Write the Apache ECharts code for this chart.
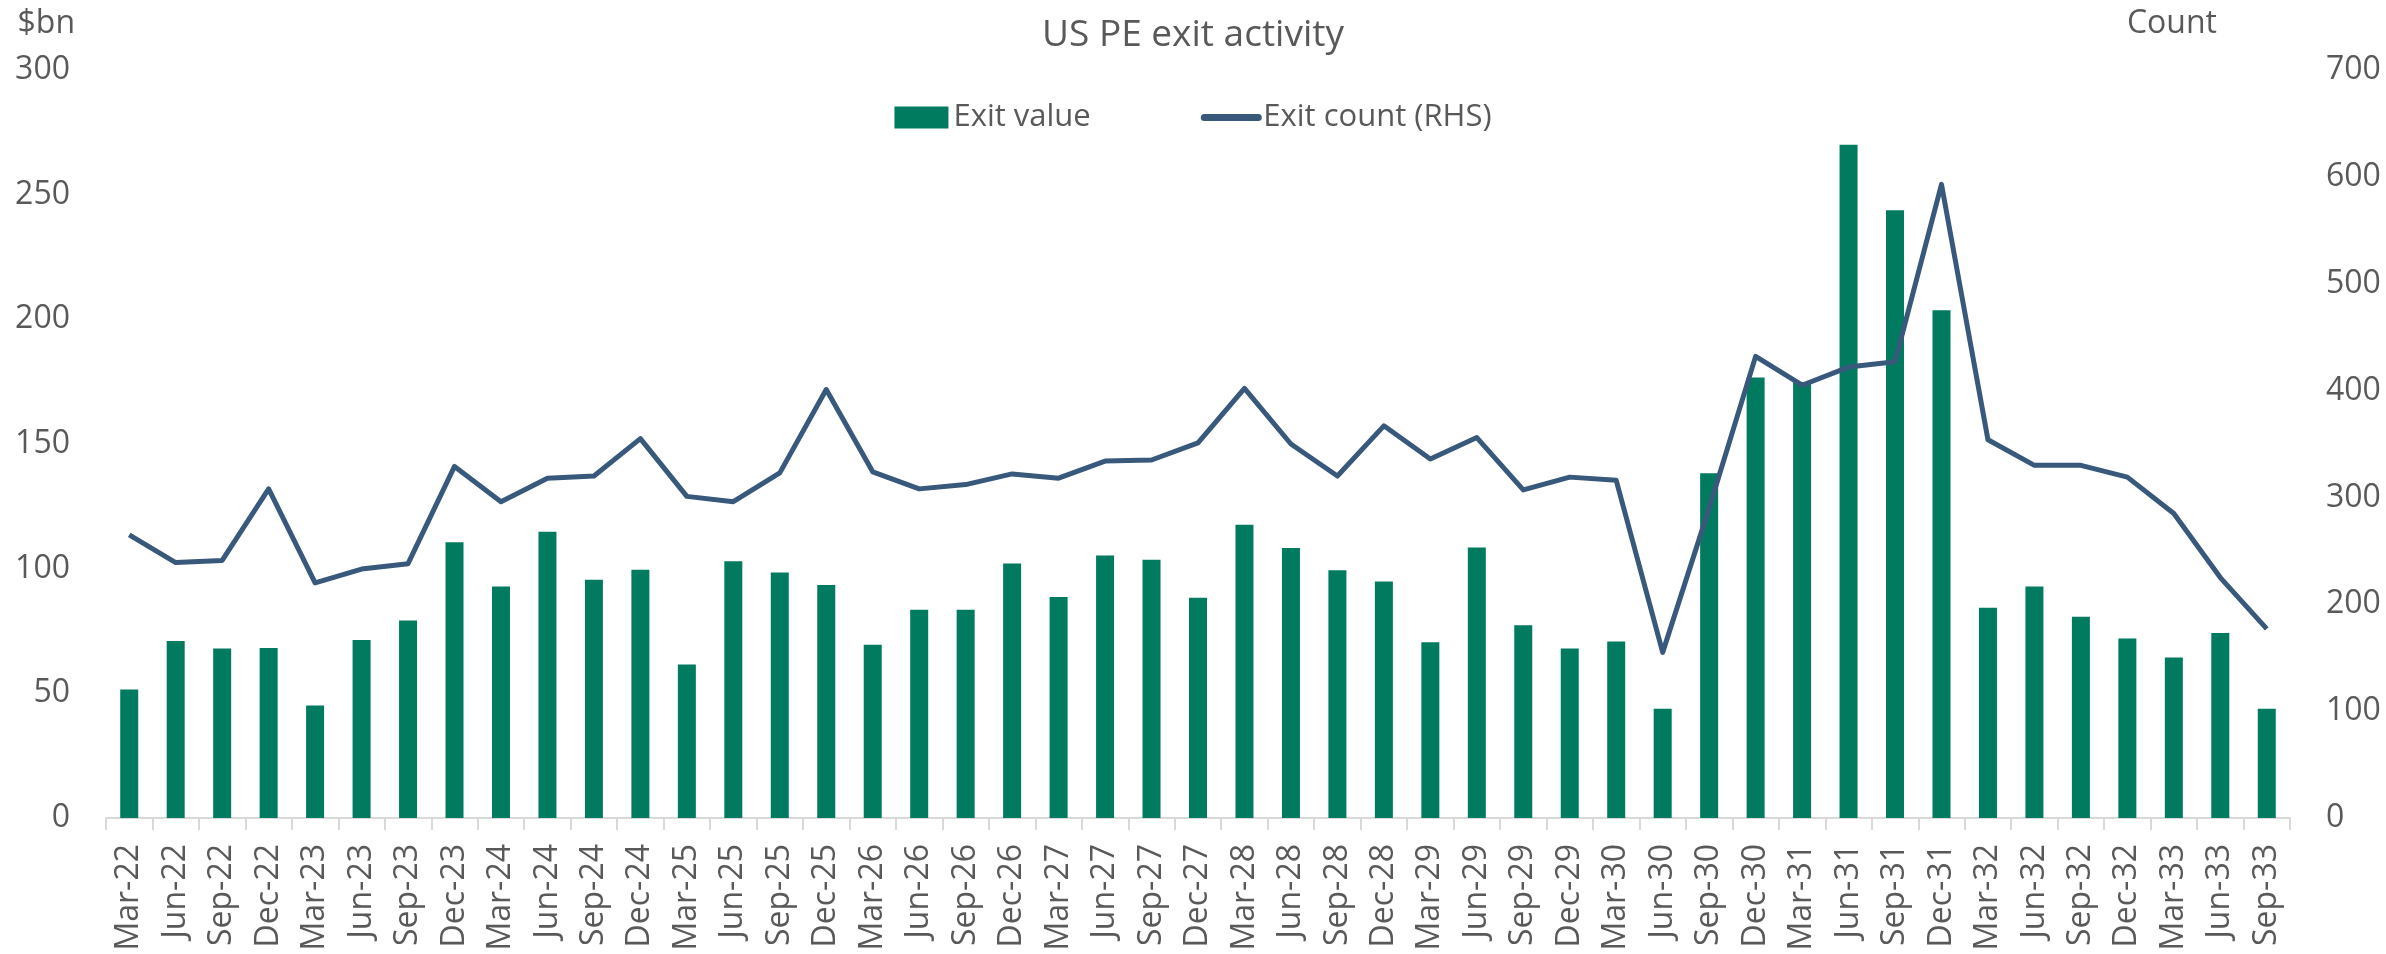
<!DOCTYPE html>
<html>
<head>
<meta charset="utf-8">
<title>US PE exit activity</title>
<script src="https://cdn.jsdelivr.net/npm/echarts@6/dist/echarts.min.js"></script>
<style>
  html, body { margin: 0; padding: 0; background: #fff; }
  #chart { width: 2386px; height: 954px; }
</style>
</head>
<body>
<div id="chart"></div>
<script>
// quarters on the x axis
const quarters = [
  'Mar-22', 'Jun-22', 'Sep-22', 'Dec-22', 'Mar-23', 'Jun-23', 'Sep-23', 'Dec-23',
  'Mar-24', 'Jun-24', 'Sep-24', 'Dec-24', 'Mar-25', 'Jun-25', 'Sep-25', 'Dec-25',
  'Mar-26', 'Jun-26', 'Sep-26', 'Dec-26', 'Mar-27', 'Jun-27', 'Sep-27', 'Dec-27',
  'Mar-28', 'Jun-28', 'Sep-28', 'Dec-28', 'Mar-29', 'Jun-29', 'Sep-29', 'Dec-29',
  'Mar-30', 'Jun-30', 'Sep-30', 'Dec-30', 'Mar-31', 'Jun-31', 'Sep-31', 'Dec-31',
  'Mar-32', 'Jun-32', 'Sep-32', 'Dec-32', 'Mar-33', 'Jun-33', 'Sep-33'
]

// exit value, $bn (LHS)
const exitValue = [
  51.5, 71, 68, 68.2, 45.1, 71.4, 79.2, 110.6,
  92.8, 114.8, 95.6, 99.6, 61.6, 103, 98.5, 93.4,
  69.5, 83.5, 83.5, 102.1, 88.6, 105.3, 103.6, 88.3,
  117.6, 108.3, 99.4, 94.9, 70.5, 108.5, 77.3, 68,
  70.8, 43.8, 138.3, 176.7, 174.8, 270, 243.7, 203.6,
  84.3, 92.8, 80.7, 72, 64.4, 74.2, 43.8
]

// exit count (RHS)
const exitCount = [
  265, 239, 241, 308, 220, 233, 238, 329,
  296, 318, 320, 355, 301, 296, 323, 401,
  324, 308, 312, 322, 318, 334, 335, 351,
  402, 350, 320, 367, 336, 356, 307, 319,
  316, 155, 290, 432, 405, 422, 427, 593,
  354, 330, 330, 319, 285, 225, 177
]

const textColor = '#595959'
const fontFamily = '"Open Sans", "Noto Sans", sans-serif'
const barColor = '#007B60'
const lineColor = '#38597B'

const chart = echarts.init(document.getElementById('chart'))

const option = {
  textStyle: { fontFamily: fontFamily, color: textColor },
  title: {
    text: 'US PE exit activity',
    left: 'center',
    top: 12,
    textStyle: { fontSize: 37, fontWeight: 'normal', color: textColor, fontFamily: fontFamily }
  },
  legend: {
    top: 97,
    left: 'center',
    itemWidth: 54,
    itemHeight: 22,
    itemGap: 110,
    textStyle: { fontSize: 31, color: textColor },
    data: [
      { name: 'Exit value', icon: 'rect' },
      {
        name: 'Exit count (RHS)',
        // plain line in the legend, no marker
        itemStyle: { opacity: 0, color: 'rgba(0,0,0,0)', borderWidth: 0 },
        lineStyle: { width: 7, cap: 'round', color: lineColor }
      }
    ]
  },
  grid: {
    left: 106,
    right: 96,
    top: 70,
    bottom: 136
  },
  xAxis: {
    type: 'category',
    data: quarters,
    axisLine: { lineStyle: { color: '#D9D9D9', width: 2 } },
    axisTick: { show: true, length: 12, lineStyle: { color: '#D9D9D9', width: 2 } },
    axisLabel: {
      rotate: 90,
      margin: 26,
      interval: 0,
      fontSize: 32,
      color: textColor
    }
  },
  yAxis: [
    {
      type: 'value',
      min: 0,
      max: 300,
      interval: 50,
      name: '$bn',
      nameLocation: 'end',
      nameGap: 30,
      nameTextStyle: { fontSize: 32, color: textColor, align: 'right', padding: [0, 31, 0, 0] },
      axisLine: { show: false },
      axisTick: { show: false },
      splitLine: { show: false },
      axisLabel: { fontSize: 32, color: textColor, margin: 36 }
    },
    {
      type: 'value',
      min: 0,
      max: 700,
      interval: 100,
      name: 'Count',
      nameLocation: 'end',
      nameGap: 30,
      nameTextStyle: { fontSize: 32, color: textColor, align: 'right', padding: [0, 73, 0, 0] },
      axisLine: { show: false },
      axisTick: { show: false },
      splitLine: { show: false },
      axisLabel: { fontSize: 32, color: textColor, margin: 36 }
    }
  ],
  series: [
    {
      name: 'Exit value',
      type: 'bar',
      yAxisIndex: 0,
      data: exitValue,
      barWidth: 18,
      itemStyle: { color: barColor }
    },
    {
      name: 'Exit count (RHS)',
      type: 'line',
      yAxisIndex: 1,
      data: exitCount,
      symbol: 'none',
      lineStyle: { color: lineColor, width: 5, join: 'round' },
      itemStyle: { color: lineColor }
    }
  ]
}

chart.setOption(option)

window.addEventListener('resize', () => {
  chart.resize()
})
</script>
</body>
</html>
